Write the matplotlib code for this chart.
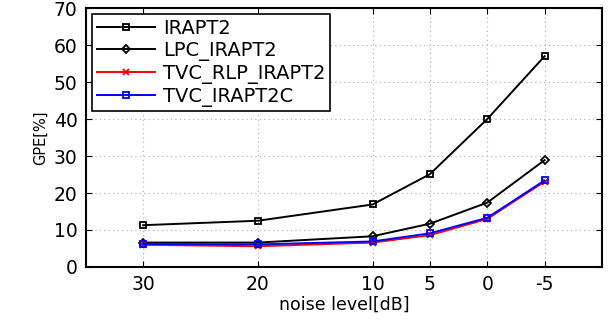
import numpy as np
import matplotlib.pyplot as plt

noise_db = [30, 20, 10, 5, 0, -5]
irapt2 = [11.3, 12.5, 16.9, 25.1, 40.0, 57.0]
lpc_irapt2 = [6.6, 6.6, 8.3, 11.7, 17.4, 28.9]
tvc_rlp_irapt2 = [6.0, 5.6, 6.6, 8.6, 13.0, 23.1]
tvc_irapt2c = [6.2, 6.1, 6.9, 9.1, 13.3, 23.4]

fig = plt.figure(figsize=(6.13, 3.24), dpi=100)
ax = fig.add_axes([0.140, 0.176, 0.842, 0.799])

ax.plot(noise_db, irapt2, 'k-', marker='s', ms=4.5, mfc='none', mew=1.3, lw=1.4, label='IRAPT2')
ax.plot(noise_db, lpc_irapt2, 'k-', marker='D', ms=4, mfc='none', mew=1.3, lw=1.4, label='LPC_IRAPT2')
ax.plot(noise_db, tvc_rlp_irapt2, '-', color='red', marker='x', ms=4, mew=1.3, lw=1.4, label='TVC_RLP_IRAPT2')
ax.plot(noise_db, tvc_irapt2c, '-', color='blue', marker='s', ms=4.5, mfc='none', mew=1.3, lw=1.4, label='TVC_IRAPT2C')

ax.set_xlim(35, -10)
ax.set_ylim(0, 70)
ax.set_xticks(noise_db)
ax.set_xticklabels(['30', '20', '10', '5', '0', '-5'])
ax.set_yticks(np.arange(0, 71, 10))
ax.tick_params(direction='in', top=True, right=True, labelsize=13.5, length=4, pad=6)
ax.grid(True, linestyle=(0, (1, 3)), color='#aaaaaa', lw=0.8)
for s in ax.spines.values():
    s.set_linewidth(1.5)

ax.set_xlabel('noise level[dB]', fontsize=12.5, labelpad=1)
ax.set_ylabel('GPE[%]', fontsize=10.5, labelpad=4)

leg = ax.legend(loc='upper left', fontsize=14, fancybox=False, framealpha=1,
                edgecolor='black', borderaxespad=0.3, handlelength=3.0,
                handletextpad=0.4, labelspacing=0.15, borderpad=0.25)
leg.get_frame().set_linewidth(1.2)

fig.savefig('out.png', dpi=100)
